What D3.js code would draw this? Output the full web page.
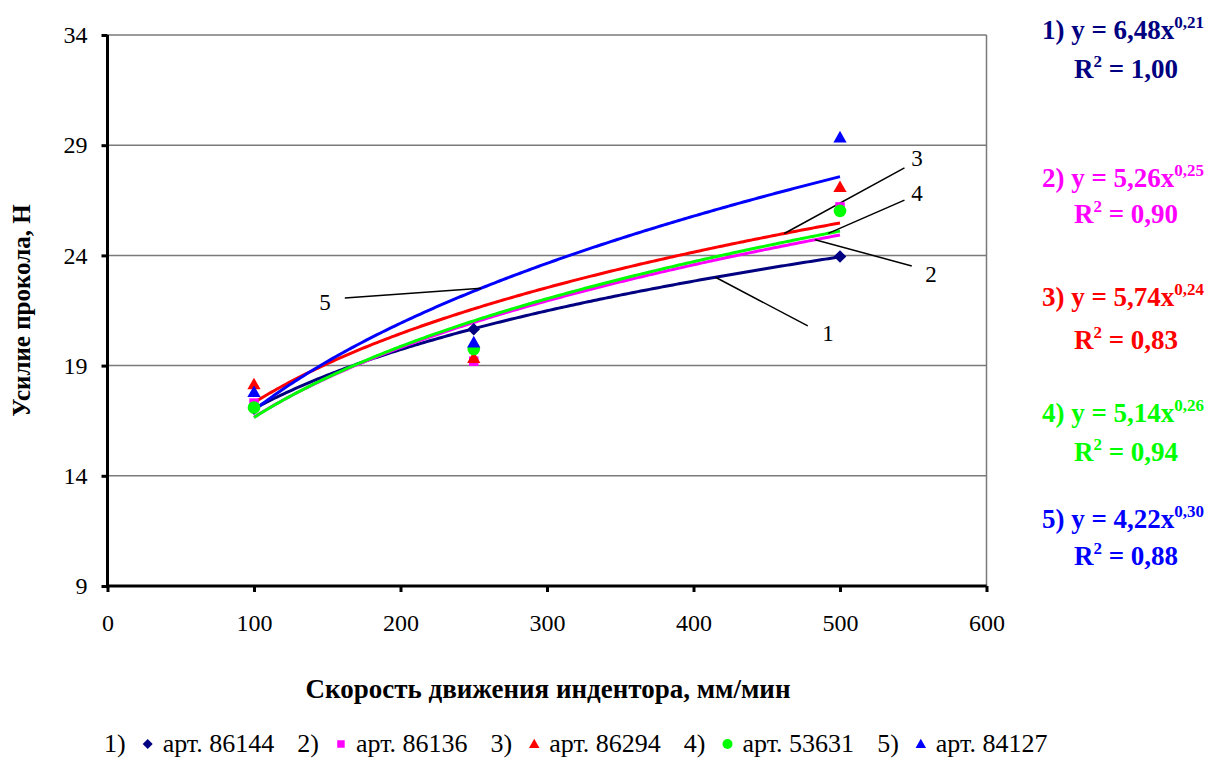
<!DOCTYPE html>
<html>
<head>
<meta charset="utf-8">
<script src="https://cdn.jsdelivr.net/npm/d3@7"></script>
<style>
  html, body { margin: 0; padding: 0; background: #fff; }
  svg { display: block; }
  svg text { font-family: "Liberation Serif", "Times New Roman", Times, "DejaVu Serif", serif !important; }
</style>
</head>
<body>
<svg id="chart" width="1222" height="758"></svg>
<script>
// Indenter speed, mm/min
const speeds = [100, 250, 500];

// Puncture force, N, for each article
const force86144 = [17.05, 20.65, 23.95];
const force86136 = [17.3, 19.2, 26.2];
const force86294 = [18.15, 19.35, 27.1];
const force53631 = [17.1, 19.75, 26.02];
const force84127 = [17.8, 20.05, 29.35];

const seriesLabels = ["арт. 86144", "арт. 86136", "арт. 86294", "арт. 53631", "арт. 84127"];
const seriesColors = ["#000080", "#FF00FF", "#FF0000", "#00FF00", "#0000FF"];
const seriesMarkers = ["diamond", "square", "triangle", "circle", "triangle"];

// Power trendline captions
const eqMain = ["1) y = 6,48x", "2) y = 5,26x", "3) y = 5,74x", "4) y = 5,14x", "5) y = 4,22x"];
const eqExp = ["0,21", "0,25", "0,24", "0,26", "0,30"];
const eqR2 = ["1,00", "0,90", "0,83", "0,94", "0,88"];

const xTicks = [0, 100, 200, 300, 400, 500, 600];
const yTicks = [9, 14, 19, 24, 29, 34];

const allForces = [force86144, force86136, force86294, force53631, force84127];

// Callout numbers: point on trendline (speed), tail end and label (speed, force)
const calloutAt = [415, 483, 462, 492, 255];
const calloutTail = [[478, 20.8], [549, 23.52], [544, 27.97], [544, 26.51], [162, 22.07]];
const calloutLabel = [[491.8, 20.12], [562.1, 22.79], [552.6, 28.06], [552.6, 26.47], [148.5, 21.52]];

const FONT = "'Liberation Serif', 'Times New Roman', Times, 'DejaVu Serif', serif";
const svg = d3.select("#chart").attr("font-family", FONT);
const M = { left: 107.5, right: 986.5, top: 35, bottom: 586 };

const x = d3.scaleLinear().domain([0, 600]).range([M.left, M.right]);
const y = d3.scaleLinear().domain([9, 34]).range([M.bottom, M.top]);

// Least-squares power fit y = a * x^b in log space
function powerFit(xs, ys) {
  const lx = xs.map(Math.log), ly = ys.map(Math.log);
  const mx = d3.mean(lx), my = d3.mean(ly);
  const b = d3.sum(lx, (v, i) => (v - mx) * (ly[i] - my)) / d3.sum(lx, v => (v - mx) ** 2);
  const a = Math.exp(my - b * mx);
  return v => a * Math.pow(v, b);
}
const fits = allForces.map(f => powerFit(speeds, f));

// Gridlines and plot-area frame
svg.append("g").selectAll("line").data(yTicks.filter(t => t > 9)).join("line")
  .attr("x1", M.left).attr("x2", M.right)
  .attr("y1", d => y(d)).attr("y2", d => y(d))
  .attr("stroke", "#7a7a7a").attr("stroke-width", 1.5);
svg.append("line")
  .attr("x1", M.right).attr("x2", M.right).attr("y1", M.top).attr("y2", M.bottom)
  .attr("stroke", "#7a7a7a").attr("stroke-width", 1.5);

// Axes
const yAxis = svg.append("g").attr("transform", `translate(${M.left},0)`)
  .call(d3.axisLeft(y).tickValues(yTicks).tickSize(6).tickPadding(14).tickFormat(d3.format("d")));
const xAxis = svg.append("g").attr("transform", `translate(0,${M.bottom})`)
  .call(d3.axisBottom(x).tickValues(xTicks).tickSize(6).tickPadding(22).tickFormat(d3.format("d")));
[yAxis, xAxis].forEach(g => {
  g.attr("font-family", FONT).attr("font-size", 24);
  g.select(".domain").attr("stroke", "#000").attr("stroke-width", 3);
  g.selectAll(".tick line").attr("stroke", "#000").attr("stroke-width", 3);
  g.selectAll(".tick text").attr("fill", "#000");
});
yAxis.select(".domain").attr("d", `M0,${M.top}V${M.bottom}`);
xAxis.select(".domain").attr("d", `M${M.left},0H${M.right}`);

// Axis titles
svg.append("text")
  .attr("transform", `translate(30,${(M.top + M.bottom) / 2}) rotate(-90)`)
  .attr("text-anchor", "middle").attr("font-weight", "bold").attr("font-size", 25)
  .text("Усилие прокола, Н");
svg.append("text")
  .attr("x", 548).attr("y", 698)
  .attr("text-anchor", "middle").attr("font-weight", "bold").attr("font-size", 27)
  .text("Скорость движения индентора, мм/мин");

// Trendlines over the measured speed range
const fitX = d3.range(100, 500.01, 2);
const line = d3.line().x(d => x(d[0])).y(d => y(d[1]));
svg.append("g").selectAll("path").data(fits).join("path")
  .attr("d", f => line(fitX.map(v => [v, f(v)])))
  .attr("fill", "none")
  .attr("stroke", (d, i) => seriesColors[i])
  .attr("stroke-width", 3);

// Marker shapes
function markerPath(kind, r) {
  if (kind === "diamond") return `M0,${-r}L${r},0L0,${r}L${-r},0Z`;
  if (kind === "square") { const h = r * 0.75; return `M${-h},${-h}H${h}V${h}H${-h}Z`; }
  if (kind === "triangle") return `M0,${-r * 1.05}L${r * 1.05},${r * 0.8}H${-r * 1.05}Z`;
  return d3.arc()({ innerRadius: 0, outerRadius: r, startAngle: 0, endAngle: 2 * Math.PI });
}

// Callouts
const callouts = svg.append("g");
calloutAt.forEach((sx, i) => {
  const px = x(sx), py = y(fits[i](sx));
  const tx = x(calloutTail[i][0]), ty = y(calloutTail[i][1]);
  callouts.append("line")
    .attr("x1", px).attr("y1", py).attr("x2", tx).attr("y2", ty)
    .attr("stroke", "#000").attr("stroke-width", 1.5);
  callouts.append("text")
    .attr("x", x(calloutLabel[i][0])).attr("y", y(calloutLabel[i][1]))
    .attr("text-anchor", "middle").attr("font-size", 23)
    .text(String(i + 1));
});

// Data points
allForces.forEach((f, i) => {
  svg.append("g").selectAll("path").data(f).join("path")
    .attr("transform", (d, j) => `translate(${x(speeds[j])},${y(d)})`)
    .attr("d", markerPath(seriesMarkers[i], 6.3))
    .attr("fill", seriesColors[i]);
});

// Equation captions
const eqY = [[39, 78], [187, 223], [306, 349], [422, 461], [528, 565]];
eqMain.forEach((t, i) => {
  const g = svg.append("g").attr("fill", seriesColors[i]).attr("font-weight", "bold");
  const t1 = g.append("text").attr("x", 1123).attr("y", eqY[i][0])
    .attr("text-anchor", "middle").attr("font-size", 27);
  t1.append("tspan").text(t);
  t1.append("tspan").attr("dy", -11).attr("font-size", 17).text(eqExp[i]);
  const t2 = g.append("text").attr("x", 1126).attr("y", eqY[i][1])
    .attr("text-anchor", "middle").attr("font-size", 27);
  t2.append("tspan").text("R");
  t2.append("tspan").attr("dy", -11).attr("font-size", 17).text("2");
  t2.append("tspan").attr("dy", 11).text(" = " + eqR2[i]);
});

// Legend
const legend = svg.append("g").attr("transform", "translate(0,752)");
let lx = 104;
seriesLabels.forEach((name, i) => {
  const n = legend.append("text").attr("x", lx).attr("y", 0).attr("font-size", 26)
    .text((i + 1) + ")");
  lx += n.node().getComputedTextLength() + 22;
  legend.append("path")
    .attr("transform", `translate(${lx},-8)`)
    .attr("d", markerPath(seriesMarkers[i], 5))
    .attr("fill", seriesColors[i]);
  lx += 15;
  const t = legend.append("text").attr("x", lx).attr("y", 0).attr("font-size", 26).text(name);
  lx += t.node().getComputedTextLength() + 23;
});
</script>
</body>
</html>
